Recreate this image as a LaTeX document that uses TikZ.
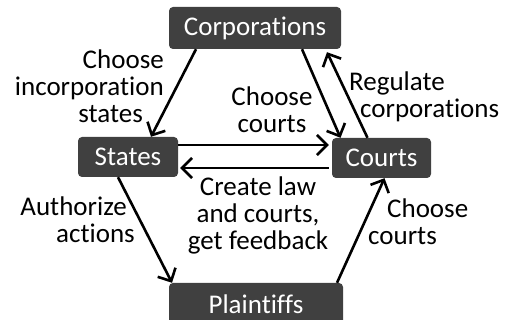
\documentclass[tikz,border=0pt]{standalone}
\usepackage{fontspec}
\setmainfont[Ligatures=NoCommon]{Carlito}
\usetikzlibrary{arrows.meta}

\begin{document}
\begin{tikzpicture}[x=1pt, y=1pt, font=\fontsize{27}{27}\selectfont,
  box/.style={fill=black!75, rounded corners=4pt, text=white, inner sep=0pt},
  lbl/.style={inner sep=0pt},
  link/.style={line width=2.6pt, -{Straight Barb[length=10pt, width=20pt, line width=2.6pt]}},
  ]

\useasboundingbox (0,0) rectangle (517,320);

\node (corp) [box, minimum width=172pt, minimum height=42pt] at (255, 292) {Corporations};
\node (states) [box, minimum width=100pt, minimum height=40pt] at (128, 163) {States};
\node (courts) [box, minimum width=99pt, minimum height=40pt] at (381.5, 162) {Courts};
\node (plain) [box, minimum width=174pt, minimum height=42pt] at (256, 16) {Plaintiffs};

\draw [link] ([xshift=-59pt]corp.south) -- ([xshift=23pt]states.north);
\draw [link] ([xshift=47pt]corp.south) -- ([xshift=-41pt]courts.north);
\draw [link] ([xshift=-14pt]courts.north) -- ([xshift=72pt, yshift=-3pt]corp.south);
\draw [link] ([yshift=12pt]states.east) -- ([yshift=13pt, xshift=-3pt]courts.west);
\draw [link, {Straight Barb[length=10pt, width=20pt, line width=2.6pt]}-] ([yshift=-11pt, xshift=2pt]states.east) -- ([yshift=-10pt, xshift=-3pt]courts.west);
\draw [link] ([xshift=-10pt]states.south) -- ([xshift=-84pt]plain.north);
\draw [link] ([xshift=81pt]plain.north) -- ([xshift=3pt]courts.south);

% labels, indented to clear the arrows
\node (lincorp) [lbl, align=right, anchor=east] at (164, 234) {Choose\\incorporation\\states\hspace*{21pt}};
\node (lcourts) [lbl, align=center] at (272, 210) {Choose\\courts};
\node (lreg) [lbl, align=left, anchor=west] at (349, 223) {Regulate\\\hspace*{11pt}corporations};
\node (llaw) [lbl, align=center] at (258, 105) {Create law\\and courts,\\get feedback};
\node (lauth) [lbl, align=right, anchor=east] at (135, 100) {Authorize\hspace*{8pt}\\actions};
\node (lchoose) [lbl, align=left, anchor=west] at (368, 98) {\hspace*{19pt}Choose\\courts};

\end{tikzpicture}
\end{document}
